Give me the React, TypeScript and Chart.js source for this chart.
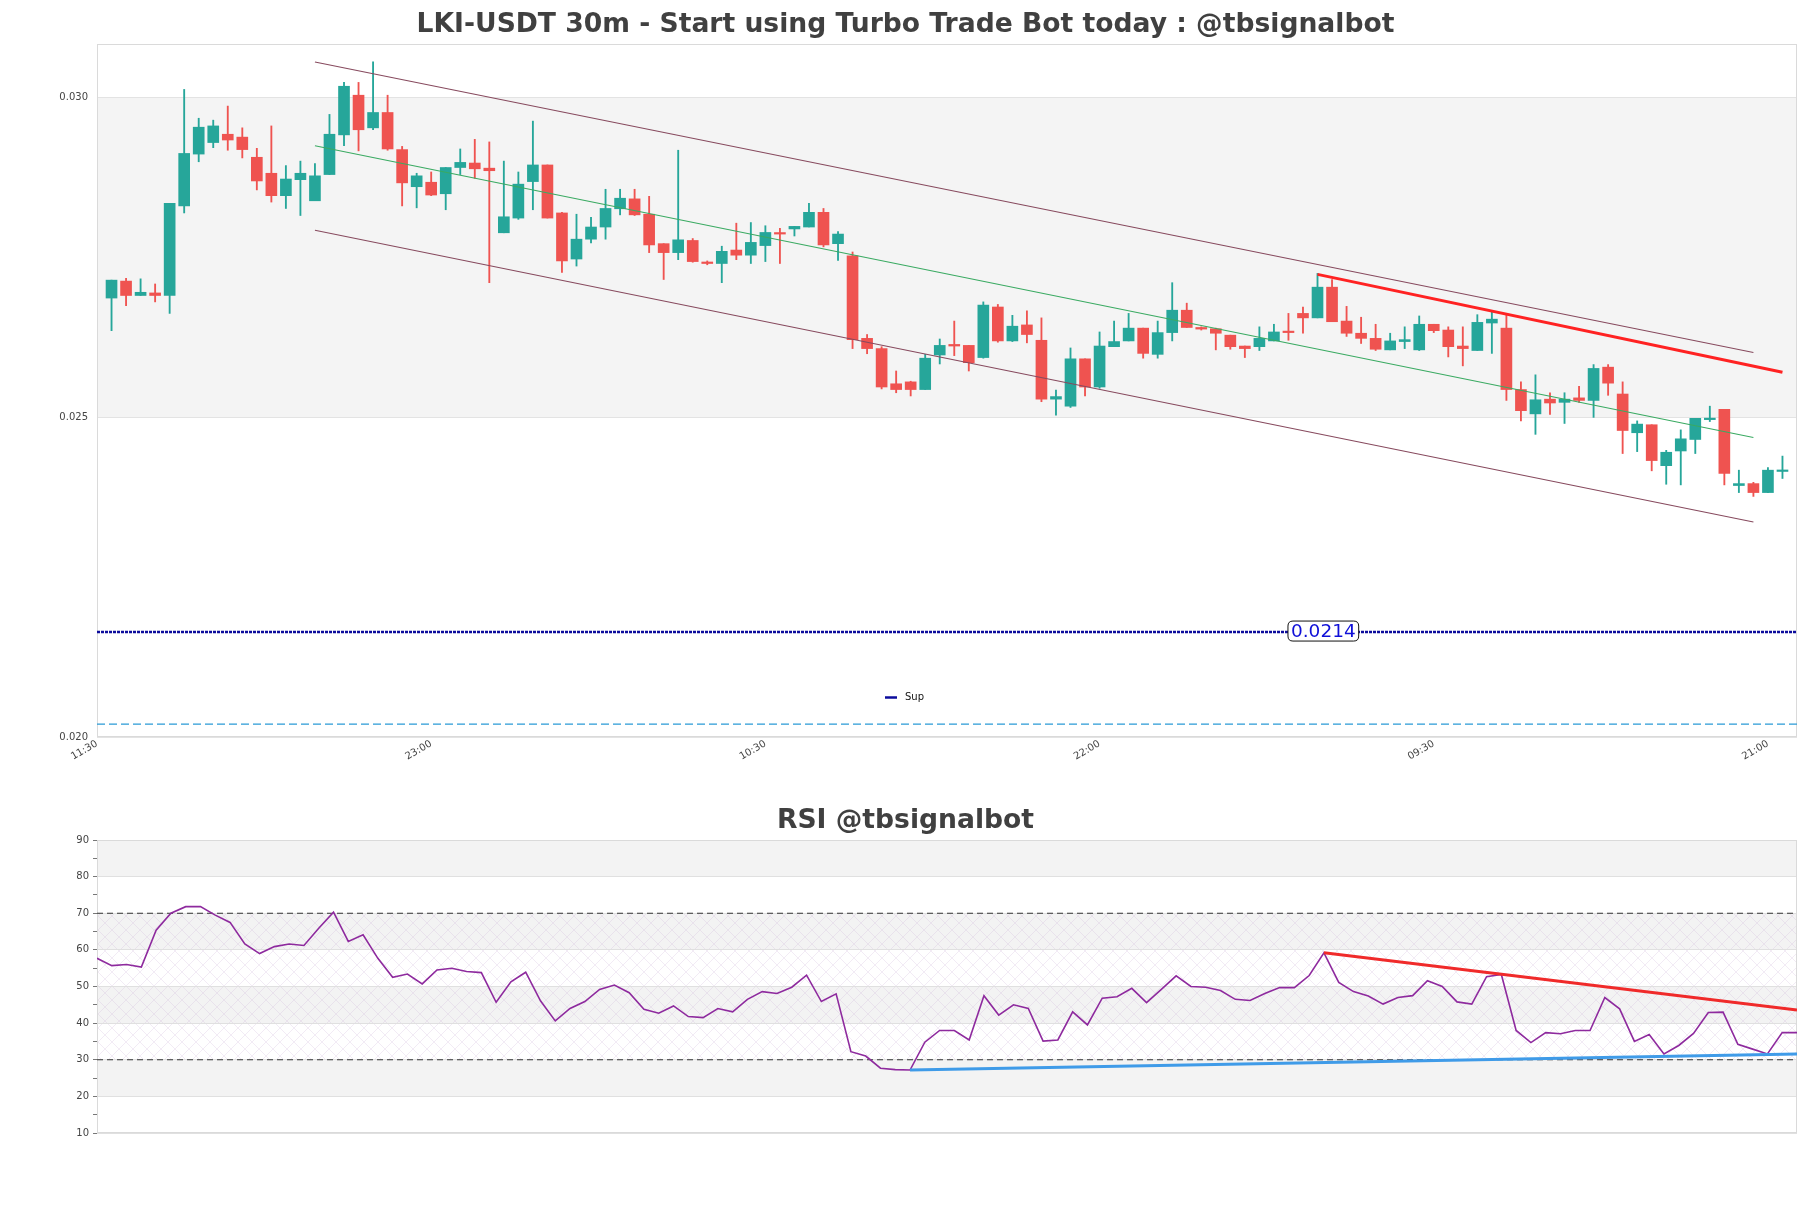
import React, { useEffect, useRef } from 'react';
import { Chart, registerables } from 'chart.js';

Chart.register(...registerables);
Chart.defaults.font.family = 'DejaVu Sans';

// ---------- DATA ----------
const xTickPos = [-1, 22, 45, 68, 91, 114];
const xTickLabels = ['11:30', '23:00', '10:30', '22:00', '09:30', '21:00'];

const opens = [
  0.02686, 0.027125, 0.02690, 0.02694, 0.02690, 0.02830, 0.02911, 0.02929, 0.02942, 0.029375,
  0.02906, 0.02881, 0.02846, 0.02871, 0.02838, 0.02879, 0.02941, 0.03003, 0.02952, 0.02976,
  0.02918, 0.02860, 0.02867, 0.02849, 0.02890, 0.02897, 0.02889, 0.02788, 0.02811, 0.02868,
  0.02894, 0.02819, 0.02747, 0.02778, 0.02797, 0.028255, 0.02841, 0.02817, 0.02771, 0.02757,
  0.02776, 0.02741, 0.02740, 0.02761, 0.02753, 0.02768, 0.027875, 0.02794, 0.02797, 0.02820,
  0.02771, 0.02752, 0.02623, 0.02607, 0.02552, 0.02555, 0.02543, 0.02597, 0.026135, 0.02612,
  0.02593, 0.02672, 0.02619, 0.02644, 0.02620, 0.02528, 0.02517, 0.02591, 0.02547, 0.02610,
  0.02619, 0.02639, 0.02598, 0.02632, 0.02667, 0.02640, 0.02638, 0.02628, 0.02611, 0.02610,
  0.02619, 0.02634, 0.02662, 0.02655, 0.02703, 0.02650, 0.02631, 0.02623, 0.02605, 0.02618,
  0.02605, 0.02645, 0.02636, 0.02611, 0.02604, 0.02647, 0.02639, 0.02543, 0.02505, 0.02528,
  0.02523, 0.02530, 0.02526, 0.02578, 0.02536, 0.024755, 0.02488, 0.02424, 0.02447, 0.02465,
  0.02496, 0.02512, 0.02393, 0.02396, 0.02382, 0.02415,
];
const highs = [
  0.02714, 0.02717, 0.02716, 0.02708, 0.02834, 0.03012, 0.02967, 0.02964, 0.02986, 0.02952,
  0.02920, 0.02955, 0.02893, 0.02900, 0.02896, 0.02973, 0.03023, 0.03023, 0.03055, 0.03003,
  0.02923, 0.02881, 0.02883, 0.02890, 0.02919, 0.02934, 0.02930, 0.02900, 0.02883, 0.029625,
  0.02894, 0.02820, 0.02817, 0.02812, 0.02856, 0.02856, 0.02856, 0.02845, 0.02771, 0.02917,
  0.02779, 0.02744, 0.02767, 0.02803, 0.02804, 0.02799, 0.02795, 0.02798, 0.02834, 0.02826,
  0.02790, 0.02758, 0.02629, 0.02610, 0.02572, 0.02556, 0.02598, 0.02622, 0.02650, 0.02612,
  0.02680, 0.02676, 0.02659, 0.02666, 0.02655, 0.02542, 0.02608, 0.02591, 0.02633, 0.02650,
  0.02662, 0.02639, 0.02650, 0.02710, 0.02678, 0.02641, 0.02639, 0.02628, 0.02611, 0.02641,
  0.02645, 0.02662, 0.02672, 0.027245, 0.02715, 0.02673, 0.02656, 0.02645, 0.02631, 0.02641,
  0.02658, 0.02645, 0.02641, 0.02641, 0.02660, 0.026645, 0.02660, 0.02555, 0.02566, 0.02538,
  0.02538, 0.02548, 0.02582, 0.02582, 0.02555, 0.02494, 0.02488, 0.02448, 0.02480, 0.02498,
  0.02517, 0.02512, 0.02417, 0.02398, 0.02421, 0.02439,
];
const lows = [
  0.02635, 0.02674, 0.02690, 0.02680, 0.02662, 0.02819, 0.02899, 0.02921, 0.02917, 0.02905,
  0.02855, 0.02836, 0.02826, 0.02815, 0.02838, 0.02879, 0.02924, 0.02916, 0.02949, 0.02917,
  0.02830, 0.02827, 0.02846, 0.02824, 0.02879, 0.02873, 0.02710, 0.02788, 0.02809, 0.02824,
  0.02811, 0.02726, 0.02736, 0.02772, 0.02778, 0.02816, 0.02815, 0.02757, 0.02715, 0.02746,
  0.02742, 0.02738, 0.02710, 0.02746, 0.02740, 0.02743, 0.02740, 0.02783, 0.02797, 0.02766,
  0.02745, 0.02607, 0.02599, 0.02544, 0.02538, 0.02533, 0.02543, 0.02583, 0.02596, 0.02572,
  0.02592, 0.02617, 0.02618, 0.02616, 0.02524, 0.02503, 0.02515, 0.02533, 0.02545, 0.02610,
  0.02619, 0.02592, 0.02592, 0.02619, 0.02640, 0.02636, 0.02605, 0.02606, 0.02593, 0.02604,
  0.02619, 0.02620, 0.02631, 0.02655, 0.02649, 0.02626, 0.02615, 0.02604, 0.02605, 0.02607,
  0.02604, 0.02632, 0.02594, 0.02580, 0.02604, 0.025995, 0.02526, 0.02494, 0.02473, 0.02504,
  0.02490, 0.02523, 0.024995, 0.02534, 0.02443, 0.02446, 0.02416, 0.02395, 0.02394, 0.02443,
  0.02493, 0.02394, 0.02382, 0.02376, 0.02382, 0.02404,
];
const closes = [
  0.02714, 0.02690, 0.02695, 0.02690, 0.02834, 0.02912, 0.02953, 0.02955, 0.02933, 0.02918,
  0.02869, 0.02846, 0.02872, 0.02881, 0.02877, 0.02942, 0.03017, 0.02949, 0.02976, 0.02919,
  0.02866, 0.02877, 0.02847, 0.02890, 0.02898, 0.02888, 0.02885, 0.02813, 0.02864, 0.02894,
  0.02811, 0.02744, 0.02778, 0.02797, 0.02826, 0.02842, 0.02816, 0.02769, 0.02757, 0.02777,
  0.02743, 0.02740, 0.02759, 0.02753, 0.02773, 0.027885, 0.02786, 0.02798, 0.02820, 0.02769,
  0.02786, 0.02621, 0.02607, 0.02547, 0.02543, 0.02543, 0.02592, 0.02612, 0.02611, 0.02585,
  0.02675, 0.02619, 0.02642, 0.02629, 0.02528, 0.02532, 0.02591, 0.02547, 0.02611, 0.02618,
  0.02639, 0.025995, 0.02632, 0.02667, 0.02640, 0.026375, 0.02631, 0.02610, 0.02607, 0.02623,
  0.02633, 0.02632, 0.02655, 0.02703, 0.02649, 0.02631, 0.02623, 0.02606, 0.02619, 0.02621,
  0.02645, 0.02635, 0.02610, 0.02607, 0.02648, 0.02653, 0.02543, 0.02510, 0.02527, 0.02522,
  0.02528, 0.02526, 0.02576, 0.02553, 0.02479, 0.02489, 0.02432, 0.02445, 0.02466, 0.02498,
  0.02498, 0.02412, 0.02396, 0.02382, 0.02417, 0.02417,
];

// trend channel (candle index, price)
const channelX = [14, 113];
const channelUpper = [0.03055, 0.02601];
const channelMid = [0.02924, 0.02468];
const channelLower = [0.02792, 0.02336];
const resistX = [83, 115];
const resistY = [0.02723, 0.02570];

const supLevel = 0.02164;
const supLabel = '0.0214';
const supLabelX = 83.4;
const lowLevel = 0.0202;
const priceBands = [[0.025, 0.030]];
const priceTicks = [0.020, 0.025, 0.030];

const rsi = [
  57.7, 55.7, 56.0, 55.3, 65.4, 70.0, 71.8, 71.8, 69.5, 67.5,
  61.6, 59.0, 60.9, 61.6, 61.2, 65.9, 70.3, 62.3, 64.1, 57.7,
  52.5, 53.4, 50.7, 54.5, 55.0, 54.1, 53.8, 45.7, 51.3, 53.9,
  46.1, 40.6, 44.0, 45.9, 49.2, 50.4, 48.3, 43.8, 42.7, 44.7,
  41.8, 41.5, 44.0, 43.1, 46.5, 48.6, 48.1, 49.8, 53.1, 45.9,
  48.0, 32.2, 31.0, 27.7, 27.3, 27.2, 34.8, 38.0, 38.0, 35.4,
  47.5, 42.2, 45.0, 44.0, 35.1, 35.4, 43.1, 39.5, 46.8, 47.2,
  49.5, 45.6, 49.2, 52.9, 50.0, 49.8, 48.9, 46.5, 46.2, 48.1,
  49.7, 49.7, 53.0, 59.2, 51.1, 48.6, 47.4, 45.2, 47.0, 47.5,
  51.6, 50.0, 45.8, 45.2, 52.7, 53.3, 38.0, 34.7, 37.4, 37.1,
  38.0, 38.0, 47.0, 43.9, 35.0, 36.9, 31.6, 33.9, 37.2, 42.9,
  43.0, 34.2, 32.9, 31.6, 37.4, 37.4,
];
const rsiRedX = [83, 115];
const rsiRedY = [59.2, 43.6];
const rsiBlueX = [55, 115];
const rsiBlueY = [27.2, 31.6];
const rsiLevels = [70, 30];
const rsiBands = [[80, 90], [60, 70], [40, 50], [20, 30]];
const rsiHatch = [30, 70];
const rsiTicks = [10, 15, 20, 25, 30, 35, 40, 45, 50, 55, 60, 65, 70, 75, 80, 85, 90];

// ---------- STYLE ----------
const UP = '#26a69a';
const DOWN = '#ef5350';
const TITLE_FONT = { size: 26.6, weight: 'bold' as const, family: 'DejaVu Sans' };

function seg(xs: number[], ys: number[]) {
  return xs.map((x, i) => ({ x, y: ys[i] }));
}

// empty right-hand axis that only reserves the right margin (so the title stays centred on the page)
const rightSpacer = {
  position: 'right',
  min: 0,
  max: 1,
  grid: { display: false, drawTicks: false },
  border: { display: false },
  ticks: { display: false },
  afterFit: (s: any) => {
    s.width = 14;
  },
};

const mainPlugin = {
  id: 'mainDeco',
  beforeDraw(chart: any) {
    const { ctx, chartArea: a, scales } = chart;
    const y = scales.y;
    ctx.save();
    ctx.fillStyle = '#ffffff';
    ctx.fillRect(0, 0, chart.width, chart.height);
    ctx.fillStyle = '#f4f4f4';
    for (const [lo, hi] of priceBands) {
      const y1 = y.getPixelForValue(hi);
      const y2 = y.getPixelForValue(lo);
      ctx.fillRect(a.left, y1, a.right - a.left, y2 - y1);
    }
    ctx.restore();
  },
  beforeDatasetsDraw(chart: any) {
    const { ctx, chartArea: a } = chart;
    ctx.save();
    ctx.strokeStyle = '#dadada';
    ctx.lineWidth = 1;
    ctx.strokeRect(a.left + 0.5, a.top + 0.5, a.right - a.left - 1, a.bottom - a.top - 1);
    ctx.restore();
  },
  afterDatasetsDraw(chart: any) {
    const { ctx, scales } = chart;
    const px = scales.x.getPixelForValue(supLabelX);
    const py = scales.y.getPixelForValue(supLevel);
    ctx.save();
    ctx.font = '18.5px "DejaVu Sans"';
    const w = ctx.measureText(supLabel).width + 6;
    const h = 20;
    const x0 = px - w / 2;
    const y0 = py - h / 2 - 1;
    ctx.beginPath();
    const r = 5;
    ctx.moveTo(x0 + r, y0);
    ctx.lineTo(x0 + w - r, y0);
    ctx.quadraticCurveTo(x0 + w, y0, x0 + w, y0 + r);
    ctx.lineTo(x0 + w, y0 + h - r);
    ctx.quadraticCurveTo(x0 + w, y0 + h, x0 + w - r, y0 + h);
    ctx.lineTo(x0 + r, y0 + h);
    ctx.quadraticCurveTo(x0, y0 + h, x0, y0 + h - r);
    ctx.lineTo(x0, y0 + r);
    ctx.quadraticCurveTo(x0, y0, x0 + r, y0);
    ctx.closePath();
    ctx.fillStyle = '#ffffff';
    ctx.fill();
    ctx.strokeStyle = '#111111';
    ctx.lineWidth = 1;
    ctx.stroke();
    ctx.fillStyle = '#1010d8';
    ctx.textAlign = 'center';
    ctx.textBaseline = 'middle';
    ctx.fillText(supLabel, px, y0 + h / 2 + 1);
    ctx.restore();
  },
  afterDraw(chart: any) {
    // legend entry for the support line
    const { ctx } = chart;
    const ds = chart.data.datasets.find((d: any) => d.label === 'Sup');
    ctx.save();
    ctx.strokeStyle = ds.borderColor;
    ctx.lineWidth = 2.5;
    ctx.beginPath();
    ctx.moveTo(885, 697.5);
    ctx.lineTo(897, 697.5);
    ctx.stroke();
    ctx.fillStyle = '#111';
    ctx.font = '10px "DejaVu Sans"';
    ctx.textBaseline = 'middle';
    ctx.fillText(ds.label, 905, 697);
    ctx.restore();
  },
};

let hatchPattern: CanvasPattern | null = null;
function getHatch(ctx: CanvasRenderingContext2D) {
  if (hatchPattern) return hatchPattern;
  const c = document.createElement('canvas');
  c.width = 14;
  c.height = 14;
  const g = c.getContext('2d')!;
  g.strokeStyle = 'rgba(200,170,215,0.3)';
  g.lineWidth = 0.8;
  g.beginPath();
  g.moveTo(0, 0);
  g.lineTo(14, 14);
  g.moveTo(14, 0);
  g.lineTo(0, 14);
  g.stroke();
  hatchPattern = ctx.createPattern(c, 'repeat');
  return hatchPattern;
}

const rsiPlugin = {
  id: 'rsiDeco',
  beforeDraw(chart: any) {
    const { ctx, chartArea: a, scales } = chart;
    const y = scales.y;
    ctx.save();
    ctx.fillStyle = '#ffffff';
    ctx.fillRect(0, 0, chart.width, chart.height);
    ctx.fillStyle = '#f3f3f3';
    for (const [lo, hi] of rsiBands) {
      const y1 = y.getPixelForValue(hi);
      const y2 = y.getPixelForValue(lo);
      ctx.fillRect(a.left, y1, a.right - a.left, y2 - y1);
    }
    const pat = getHatch(ctx);
    if (pat) {
      ctx.fillStyle = pat;
      const y1 = y.getPixelForValue(rsiHatch[1]);
      const y2 = y.getPixelForValue(rsiHatch[0]);
      ctx.fillRect(a.left, y1, a.right - a.left, y2 - y1);
    }
    ctx.restore();
  },
  beforeDatasetsDraw(chart: any) {
    const { ctx, chartArea: a } = chart;
    ctx.save();
    ctx.strokeStyle = '#dadada';
    ctx.lineWidth = 1;
    ctx.strokeRect(a.left + 0.5, a.top + 0.5, a.right - a.left - 1, a.bottom - a.top - 1);
    ctx.restore();
  },
};

function mainConfig(): any {
  const idx = opens.map((_, i) => i);
  const colors = idx.map((i) => (closes[i] >= opens[i] ? UP : DOWN));
  return {
    type: 'bar',
    data: {
      datasets: [
        {
          type: 'bar',
          label: 'wick',
          data: idx.map((i) => ({ x: i, y: [lows[i], highs[i]] })),
          backgroundColor: colors,
          barThickness: 1.2,
          grouped: false,
          order: 10,
        },
        {
          type: 'bar',
          label: 'body',
          data: idx.map((i) => ({ x: i, y: [opens[i], closes[i]] })),
          backgroundColor: colors,
          barThickness: 11,
          minBarLength: 1.5,
          grouped: false,
          order: 9,
        },
        {
          type: 'line',
          label: 'upper',
          data: seg(channelX, channelUpper),
          borderColor: '#874a5e',
          borderWidth: 1.1,
          pointRadius: 0,
          order: 3,
        },
        {
          type: 'line',
          label: 'mid',
          data: seg(channelX, channelMid),
          borderColor: '#3aaa62',
          borderWidth: 1.1,
          pointRadius: 0,
          order: 3,
        },
        {
          type: 'line',
          label: 'lower',
          data: seg(channelX, channelLower),
          borderColor: '#874a5e',
          borderWidth: 1.1,
          pointRadius: 0,
          order: 3,
        },
        {
          type: 'line',
          label: 'resist',
          data: seg(resistX, resistY),
          borderColor: '#ff2222',
          borderWidth: 3,
          pointRadius: 0,
          order: 2,
        },
        {
          type: 'line',
          label: 'Sup',
          data: seg([-1, 116], [supLevel, supLevel]),
          borderColor: '#0c0c9c',
          borderWidth: 2.5,
          borderDash: [3, 1],
          pointRadius: 0,
          order: 2,
        },
        {
          type: 'line',
          label: 'level',
          data: seg([-1, 116], [lowLevel, lowLevel]),
          borderColor: '#2a9ad6',
          borderWidth: 1.3,
          borderDash: [8, 4],
          pointRadius: 0,
          order: 2,
        },
      ],
    },
    options: {
      animation: false,
      responsive: false,
      devicePixelRatio: 1,
      layout: { padding: { left: 0, right: 0, top: 0, bottom: 0 } },
      plugins: {
        legend: { display: false },
        tooltip: { enabled: false },
        title: {
          display: true,
          text: 'LKI-USDT 30m - Start using Turbo Trade Bot today : @tbsignalbot',
          font: TITLE_FONT,
          color: '#404040',
          padding: { top: 9.6, bottom: 2.5 },
        },
      },
      scales: {
        x: {
          type: 'linear',
          min: -1,
          max: 116,
          offset: false,
          grid: { display: false, drawTicks: false },
          border: { display: false },
          afterBuildTicks: (s: any) => {
            s.ticks = xTickPos.map((v) => ({ value: v }));
          },
          afterFit: (s: any) => {
            s.height = 53;
          },
          ticks: {
            autoSkip: false,
            minRotation: 30,
            maxRotation: 30,
            padding: 1,
            color: '#444',
            font: { size: 10 },
            callback: (v: number) => {
              const k = xTickPos.indexOf(v);
              return k >= 0 ? xTickLabels[k] : '';
            },
          },
        },
        y: {
          min: 0.02,
          max: 0.03083,
          grid: { color: '#e3e3e3', drawTicks: false },
          border: { display: false },
          afterBuildTicks: (s: any) => {
            s.ticks = priceTicks.map((v) => ({ value: v }));
          },
          afterFit: (s: any) => {
            s.width = 97;
          },
          ticks: {
            padding: 9,
            color: '#444',
            font: { size: 10 },
            callback: (v: number) => v.toFixed(3),
          },
        },
        yRight: rightSpacer,
      },
    },
    plugins: [mainPlugin],
  };
}

function rsiConfig(): any {
  return {
    type: 'line',
    data: {
      datasets: [
        {
          label: 'RSI',
          data: rsi.map((v, i) => ({ x: i, y: v })),
          borderColor: '#8e2a9e',
          borderWidth: 1.6,
          pointRadius: 0,
          tension: 0,
          order: 3,
        },
        {
          label: 'down',
          data: seg(rsiRedX, rsiRedY),
          borderColor: '#f02a2a',
          borderWidth: 3,
          pointRadius: 0,
          order: 1,
        },
        {
          label: 'up',
          data: seg(rsiBlueX, rsiBlueY),
          borderColor: '#3f9be8',
          borderWidth: 3,
          pointRadius: 0,
          order: 1,
        },
        ...rsiLevels.map((lv) => ({
          label: 'lvl' + lv,
          data: seg([0, rsi.length - 1], [lv, lv]),
          borderColor: '#333333',
          borderWidth: 1.2,
          borderDash: [6, 4],
          pointRadius: 0,
          order: 4,
        })),
      ],
    },
    options: {
      animation: false,
      responsive: false,
      devicePixelRatio: 1,
      layout: { padding: { left: 0, right: 0, top: 0, bottom: 75 } },
      plugins: {
        legend: { display: false },
        tooltip: { enabled: false },
        title: {
          display: true,
          text: 'RSI @tbsignalbot',
          font: TITLE_FONT,
          color: '#404040',
          padding: { top: 15.6, bottom: 2.5 },
        },
      },
      scales: {
        x: {
          type: 'linear',
          min: 0,
          max: rsi.length - 1,
          display: false,
        },
        y: {
          min: 10,
          max: 90,
          border: { display: false },
          grid: {
            color: (c: any) => (c.tick && c.tick.value % 10 === 0 ? '#e0e0e0' : 'rgba(0,0,0,0)'),
            tickColor: '#777',
            tickLength: 4,
            drawTicks: true,
          },
          afterBuildTicks: (s: any) => {
            s.ticks = rsiTicks.map((v) => ({ value: v }));
          },
          afterFit: (s: any) => {
            s.width = 97;
          },
          ticks: {
            autoSkip: false,
            padding: 4,
            color: '#444',
            font: { size: 10 },
            callback: (v: number) => (v % 10 === 0 ? String(v) : ''),
          },
        },
        yRight: rightSpacer,
      },
    },
    plugins: [rsiPlugin],
  };
}

export default function App() {
  const mainRef = useRef<HTMLCanvasElement>(null);
  const rsiRef = useRef<HTMLCanvasElement>(null);
  useEffect(() => {
    const c1 = new Chart(mainRef.current as HTMLCanvasElement, mainConfig());
    const c2 = new Chart(rsiRef.current as HTMLCanvasElement, rsiConfig());
    return () => {
      c1.destroy();
      c2.destroy();
    };
  }, []);
  return (
    <div style={{ position: 'absolute', left: 0, top: 0, width: 1811, height: 1208, background: '#ffffff' }}>
      <canvas ref={mainRef} width={1811} height={790} style={{ position: 'absolute', left: 0, top: 0 }} />
      <canvas ref={rsiRef} width={1811} height={418} style={{ position: 'absolute', left: 0, top: 790 }} />
    </div>
  );
}
